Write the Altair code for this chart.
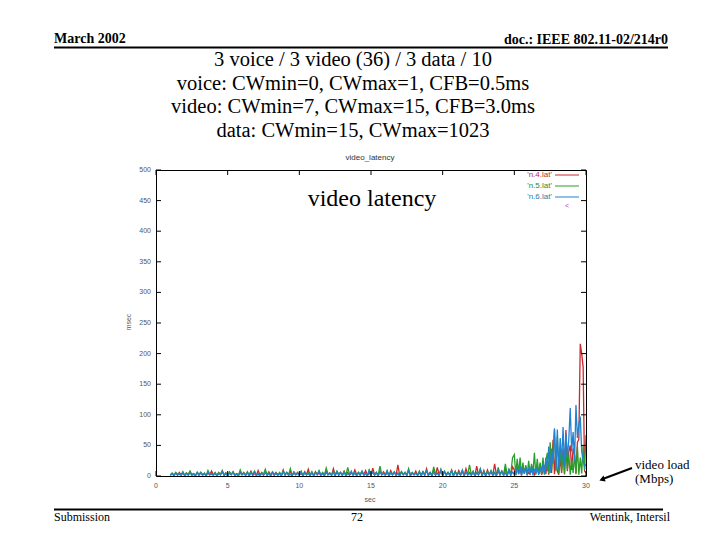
import altair as alt
import pandas as pd

# ---------------- data ----------------
# sample times (sec)
t_flat = [1.0, 1.125, 1.25, 1.375, 1.5, 1.625, 1.75, 1.875,
          2.0, 2.125, 2.25, 2.375, 2.5, 2.625, 2.75, 2.875,
          3.0, 3.125, 3.25, 3.375, 3.5, 3.625, 3.75, 3.875,
          4.0, 4.125, 4.25, 4.375, 4.5, 4.625, 4.75, 4.875,
          5.0, 5.125, 5.25, 5.375, 5.5, 5.625, 5.75, 5.875,
          6.0, 6.125, 6.25, 6.375, 6.5, 6.625, 6.75, 6.875,
          7.0, 7.125, 7.25, 7.375, 7.5, 7.625, 7.75, 7.875,
          8.0, 8.125, 8.25, 8.375, 8.5, 8.625, 8.75, 8.875,
          9.0, 9.125, 9.25, 9.375, 9.5, 9.625, 9.75, 9.875,
          10.0, 10.125, 10.25, 10.375, 10.5, 10.625, 10.75, 10.875,
          11.0, 11.125, 11.25, 11.375, 11.5, 11.625, 11.75, 11.875,
          12.0, 12.125, 12.25, 12.375, 12.5, 12.625, 12.75, 12.875,
          13.0, 13.125, 13.25, 13.375, 13.5, 13.625, 13.75, 13.875,
          14.0, 14.125, 14.25, 14.375, 14.5, 14.625, 14.75, 14.875,
          15.0, 15.125, 15.25, 15.375, 15.5, 15.625, 15.75, 15.875,
          16.0, 16.125, 16.25, 16.375, 16.5, 16.625, 16.75, 16.875,
          17.0, 17.125, 17.25, 17.375, 17.5, 17.625, 17.75, 17.875,
          18.0, 18.125, 18.25, 18.375, 18.5, 18.625, 18.75, 18.875,
          19.0, 19.125, 19.25, 19.375, 19.5, 19.625, 19.75, 19.875,
          20.0, 20.125, 20.25, 20.375, 20.5, 20.625, 20.75, 20.875,
          21.0, 21.125, 21.25, 21.375, 21.5, 21.625, 21.75, 21.875,
          22.0, 22.125, 22.25, 22.375, 22.5, 22.625, 22.75, 22.875,
          23.0, 23.125, 23.25, 23.375, 23.5, 23.625, 23.75, 23.875,
          24.0, 24.125, 24.25, 24.375, 24.5, 24.625, 24.75, 24.875,
          25.0]
t_tail = [25.1, 25.2, 25.3, 25.4, 25.5, 25.6, 25.7, 25.8, 25.9, 26.0,
          26.1, 26.2, 26.3, 26.4, 26.5, 26.6, 26.7, 26.8, 26.9, 27.0,
          27.1, 27.2, 27.3, 27.4, 27.5, 27.6, 27.7, 27.8, 27.9, 28.0,
          28.1, 28.2, 28.3, 28.4, 28.5, 28.6, 28.7, 28.8, 28.9, 29.0,
          29.1, 29.2, 29.3, 29.4, 29.5, 29.6, 29.7, 29.8, 29.9, 30.0]

# 'n.4.lat' (red), msec
n4_flat = [1, 4, 2, 5, 1, 6, 2, 4,
           2, 5, 1, 7, 2, 4, 1, 5,
           1, 6, 2, 4, 1, 5, 2, 8,
           2, 4, 1, 6, 2, 9, 1, 5,
           1, 5, 2, 7, 1, 4, 2, 6,
           2, 6, 1, 5, 2, 8, 1, 4,
           1, 9, 2, 5, 1, 6, 2, 7,
           2, 5, 1, 6, 2, 4, 1, 10,
           1, 6, 2, 8, 1, 5, 2, 6,
           2, 4, 1, 7, 2, 11, 1, 5,
           1, 7, 2, 5, 1, 6, 2, 9,
           2, 5, 1, 12, 2, 7, 1, 6,
           1, 8, 2, 6, 1, 5, 2, 10,
           2, 6, 1, 7, 2, 9, 1, 5,
           1, 13, 2, 6, 1, 8, 2, 7,
           2, 5, 1, 9, 2, 6, 1, 18,
           1, 7, 2, 6, 1, 10, 2, 5,
           2, 8, 1, 5, 2, 7, 1, 12,
           1, 6, 2, 9, 1, 14, 2, 7,
           2, 7, 1, 6, 2, 10, 1, 8,
           1, 9, 2, 7, 1, 12, 2, 6,
           2, 6, 1, 16, 2, 8, 1, 9,
           1, 10, 2, 7, 1, 20, 2, 8,
           2, 8, 1, 12, 2, 9, 1, 15,
           10]
n4_tail = [2, 15, 3, 12, 1, 18, 4, 14, 2, 6,
           3, 8, 16, 2, 7, 14, 3, 20, 2, 8,
           15, 3, 25, 2, 35, 5, 59, 3, 40, 8,
           2, 30, 5, 45, 3, 75, 8, 40, 50, 10,
           45, 35, 5, 55, 60, 216, 200, 178, 8, 5]

# 'n.5.lat' (green), msec
n5_flat = [2, 5, 1, 6, 3, 4, 2, 7,
           1, 5, 3, 8, 2, 4, 1, 6,
           3, 6, 2, 5, 1, 9, 3, 4,
           2, 6, 1, 5, 3, 8, 2, 5,
           1, 7, 3, 6, 2, 4, 1, 10,
           3, 5, 2, 7, 1, 6, 3, 8,
           2, 4, 1, 6, 3, 11, 2, 5,
           1, 7, 3, 5, 2, 6, 1, 8,
           3, 6, 2, 12, 1, 7, 3, 5,
           2, 8, 1, 6, 3, 5, 2, 7,
           1, 6, 3, 9, 2, 5, 1, 13,
           3, 5, 2, 7, 1, 8, 3, 6,
           2, 7, 1, 14, 3, 6, 2, 5,
           1, 6, 3, 8, 2, 5, 1, 10,
           3, 7, 2, 6, 1, 16, 3, 5,
           2, 9, 1, 6, 3, 7, 2, 5,
           1, 7, 3, 6, 2, 12, 1, 6,
           3, 5, 2, 8, 1, 7, 3, 9,
           2, 6, 1, 15, 3, 5, 2, 11,
           1, 8, 3, 6, 2, 9, 1, 7,
           3, 6, 2, 10, 1, 7, 3, 18,
           2, 8, 1, 6, 3, 12, 2, 7,
           1, 7, 3, 9, 2, 6, 1, 14,
           3, 8, 2, 20, 1, 11, 3, 30,
           35]
n5_tail = [2, 28, 5, 30, 3, 22, 4, 18, 2, 25,
           3, 20, 5, 38, 2, 28, 4, 22, 3, 30,
           2, 25, 38, 5, 55, 10, 42, 75, 8, 65,
           5, 45, 8, 38, 3, 42, 10, 35, 2, 28,
           5, 35, 3, 48, 2, 30, 4, 50, 10, 67]

# 'n.6.lat' (blue), msec
n6_flat = [1, 4, 0, 5, 2, 3, 1, 6,
           0, 4, 2, 5, 1, 3, 0, 6,
           2, 5, 1, 4, 0, 6, 2, 3,
           1, 5, 0, 4, 2, 7, 1, 4,
           0, 5, 2, 6, 1, 3, 0, 5,
           2, 4, 1, 6, 0, 5, 2, 7,
           1, 3, 0, 5, 2, 6, 1, 4,
           0, 6, 2, 4, 1, 5, 0, 7,
           2, 5, 1, 3, 0, 6, 2, 4,
           1, 7, 0, 5, 2, 4, 1, 6,
           0, 5, 2, 8, 1, 4, 0, 6,
           2, 4, 1, 6, 0, 7, 2, 5,
           1, 6, 0, 4, 2, 8, 1, 5,
           0, 5, 2, 7, 1, 4, 0, 9,
           2, 6, 1, 5, 0, 7, 2, 4,
           1, 8, 0, 5, 2, 6, 1, 4,
           0, 6, 2, 5, 1, 9, 0, 5,
           2, 4, 1, 7, 0, 6, 2, 8,
           1, 5, 0, 6, 2, 4, 1, 10,
           0, 7, 2, 5, 1, 8, 0, 6,
           2, 5, 1, 9, 0, 6, 2, 4,
           1, 7, 0, 5, 2, 11, 1, 6,
           0, 6, 2, 8, 1, 5, 0, 9,
           2, 7, 1, 5, 0, 10, 2, 6,
           3]
n6_tail = [2, 14, 3, 16, 1, 12, 4, 15, 2, 13,
           3, 16, 1, 12, 4, 15, 2, 14, 5, 20,
           3, 30, 8, 48, 5, 45, 20, 78, 10, 76,
           12, 62, 20, 80, 15, 70, 30, 60, 111, 40,
           72, 25, 116, 62, 85, 97, 40, 25, 15, 20]

series_names = ["'n.4.lat'", "'n.5.lat'", "'n.6.lat'"]
series_colors = ["#c8282a", "#2a9e2a", "#2282d2"]
legend_text_colors = ["#b03030", "#2a8a2a", "#2a7aa8"]

x_ticks = [0, 5, 10, 15, 20, 25, 30]
y_ticks = [0, 50, 100, 150, 200, 250, 300, 350, 400, 450, 500]

times = t_flat + t_tail
values = [n4_flat + n4_tail, n5_flat + n5_tail, n6_flat + n6_tail]

W, H = 430, 306
SERIF = "Liberation Serif"
SANS = "Liberation Sans"

xscale = alt.Scale(domain=[0, 30], nice=False, zero=False)
yscale = alt.Scale(domain=[0, 500], nice=False)

layers = []

# series lines (drawn in gnuplot order: red, green, blue)
for name, col, vals in zip(series_names, series_colors, values):
    df = pd.DataFrame({"t": times, "v": vals})
    layers.append(
        alt.Chart(df).mark_line(color=col, strokeWidth=1.3, clip=True).encode(
            x=alt.X("t:Q", scale=xscale, axis=None),
            y=alt.Y("v:Q", scale=yscale, axis=None),
        )
    )

# inward tick marks on all four sides + tick labels
ydf = pd.DataFrame({"v": y_ticks})
xdf = pd.DataFrame({"t": x_ticks})
layers.append(alt.Chart(ydf).mark_rule(color="black", strokeWidth=1).encode(
    x=alt.value(0), x2=alt.value(5), y=alt.Y("v:Q", scale=yscale, axis=None)))
layers.append(alt.Chart(ydf).mark_rule(color="black", strokeWidth=1).encode(
    x=alt.value(W - 5), x2=alt.value(W), y=alt.Y("v:Q", scale=yscale, axis=None)))
layers.append(alt.Chart(xdf).mark_rule(color="black", strokeWidth=1).encode(
    y=alt.value(H), y2=alt.value(H - 5), x=alt.X("t:Q", scale=xscale, axis=None)))
layers.append(alt.Chart(xdf).mark_rule(color="black", strokeWidth=1).encode(
    y=alt.value(0), y2=alt.value(5), x=alt.X("t:Q", scale=xscale, axis=None)))
layers.append(alt.Chart(ydf).mark_text(fontSize=7, font=SANS, color="#555", align="right",
                                       baseline="middle").encode(
    x=alt.value(-5), y=alt.Y("v:Q", scale=yscale, axis=None), text=alt.Text("v:Q", format="d")))
layers.append(alt.Chart(xdf).mark_text(fontSize=7, font=SANS, color="#555", align="center",
                                       baseline="middle").encode(
    y=alt.value(H + 10), x=alt.X("t:Q", scale=xscale, axis=None), text=alt.Text("t:Q", format="d")))

one = pd.DataFrame({"a": [0]})


def txt(s, px, py, size, font=SERIF, weight="normal", align="center", color="black", angle=0):
    kw = dict(text=s, fontSize=size, font=font, fontWeight=weight, align=align,
              baseline="middle", color=color)
    if angle:
        kw["angle"] = angle
    return alt.Chart(one).mark_text(**kw).encode(x=alt.value(px), y=alt.value(py))


def rule(x1, y1, x2, y2, width=1, color="black"):
    return alt.Chart(one).mark_rule(color=color, strokeWidth=width).encode(
        x=alt.value(x1), y=alt.value(y1), x2=alt.value(x2), y2=alt.value(y2))


# slide header / footer (page coordinates minus plot origin 156,170)
layers += [
    txt("March 2002", -102, -131, 14, weight="bold", align="left"),
    txt("doc.: IEEE 802.11-02/214r0", 512, -130, 14, weight="bold", align="right"),
    rule(-102, -122.5, 512, -122.5, width=2),
    txt("3 voice / 3 video (36) / 3 data / 10", 197, -110, 20.5),
    txt("voice: CWmin=0, CWmax=1, CFB=0.5ms", 197, -86.5, 20.5),
    txt("video: CWmin=7, CWmax=15, CFB=3.0ms", 197, -63, 20.5),
    txt("data: CWmin=15, CWmax=1023", 197, -39.5, 20.5),
    rule(-102, 339.5, 507, 339.5, width=2),
    txt("Submission", -102, 347, 12, align="left"),
    txt("72", 201, 347, 12),
    txt("Wentink, Intersil", 514, 347, 12, align="right"),
]

# gnuplot titles
layers += [
    txt("video_latency", 214, -12, 8, font=SANS, color="#333"),
    txt("msec", -27, 152, 7, font=SANS, color="#555", angle=270),
    txt("sec", 214, 330, 7, font=SANS, color="#555"),
]

# gnuplot key
key_y = [5, 16, 27]
for name, col, tcol, ky in zip(series_names, series_colors, legend_text_colors, key_y):
    layers.append(txt(name, 396, ky, 8, font=SANS, align="right", color=tcol))
    layers.append(rule(399, ky, 423, ky, width=1, color=col))
layers.append(txt("<", 411, 36, 7, font=SANS, color="#a040c0"))

# annotations
layers += [
    txt("video latency", 216, 29, 24),
    txt("video load", 479, 295, 13, align="left"),
    txt("(Mbps)", 479, 309, 13, align="left"),
    rule(476, 298, 448, 308.5, width=2),
    alt.Chart(one).mark_point(shape="triangle-left", filled=True, color="black", size=40,
                              angle=340, opacity=1).encode(x=alt.value(446), y=alt.value(309.5)),
]

chart = alt.layer(*layers).properties(
    width=W, height=H,
    autosize=alt.AutoSizeParams(type="none"),
    padding={"left": 148, "top": 162, "right": 126, "bottom": 56},
    background="white",
).configure_view(stroke="black", strokeWidth=1)

chart.save("out.html", embed_options={"renderer": "svg", "actions": False})
